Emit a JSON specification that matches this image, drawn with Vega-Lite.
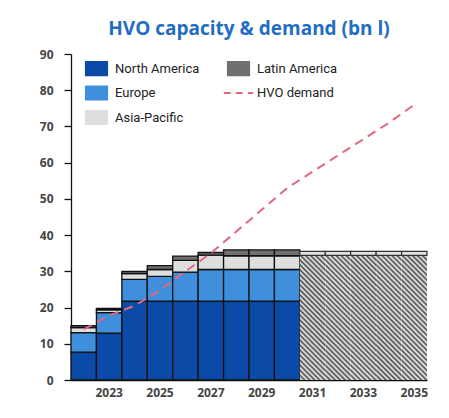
{
  "$schema": "https://vega.github.io/schema/vega-lite/v6.json",
  "width": 356,
  "height": 326,
  "autosize": "none",
  "padding": {"left": 71, "top": 54, "right": 22, "bottom": 38},
  "background": "white",
  "title": {"text": "HVO capacity & demand (bn l)", "color": "#1f6ec3", "fontSize": 19, "font": "Open Sans", "fontWeight": "bold", "anchor": "middle", "frame": "group", "offset": 9},
  "config": {
    "view": {"stroke": null},
    "axisY": {"domainColor": "#111", "domainWidth": 1.3, "tickColor": "#111", "tickWidth": 1.3, "tickSize": 7, "labelFont": "Open Sans", "labelFontSize": 12, "labelFontWeight": "bold", "labelColor": "#444", "labelPadding": 11, "grid": false},
    "axisX": {"domainColor": "#111", "domainWidth": 1.3, "ticks": false, "labelFont": "Open Sans", "labelFontSize": 12, "labelFontWeight": "bold", "labelColor": "#444", "labelPadding": 7, "labelAngle": 0, "grid": false}
  },
  "datasets": {
    "capacity": [
      {"year": 2022, "region": "North America", "order": 1, "value": 7.7},
      {"year": 2022, "region": "Europe", "order": 2, "value": 5.4},
      {"year": 2022, "region": "Asia-Pacific", "order": 3, "value": 1.4},
      {"year": 2022, "region": "Latin America", "order": 4, "value": 0.5},
      {"year": 2023, "region": "North America", "order": 1, "value": 12.9},
      {"year": 2023, "region": "Europe", "order": 2, "value": 5.7},
      {"year": 2023, "region": "Asia-Pacific", "order": 3, "value": 0.8},
      {"year": 2023, "region": "Latin America", "order": 4, "value": 0.4},
      {"year": 2024, "region": "North America", "order": 1, "value": 21.8},
      {"year": 2024, "region": "Europe", "order": 2, "value": 6.0},
      {"year": 2024, "region": "Asia-Pacific", "order": 3, "value": 1.6},
      {"year": 2024, "region": "Latin America", "order": 4, "value": 0.6},
      {"year": 2025, "region": "North America", "order": 1, "value": 21.8},
      {"year": 2025, "region": "Europe", "order": 2, "value": 6.8},
      {"year": 2025, "region": "Asia-Pacific", "order": 3, "value": 1.9},
      {"year": 2025, "region": "Latin America", "order": 4, "value": 1.1},
      {"year": 2026, "region": "North America", "order": 1, "value": 21.8},
      {"year": 2026, "region": "Europe", "order": 2, "value": 8.0},
      {"year": 2026, "region": "Asia-Pacific", "order": 3, "value": 3.2},
      {"year": 2026, "region": "Latin America", "order": 4, "value": 1.2},
      {"year": 2027, "region": "North America", "order": 1, "value": 21.8},
      {"year": 2027, "region": "Europe", "order": 2, "value": 8.7},
      {"year": 2027, "region": "Asia-Pacific", "order": 3, "value": 4.0},
      {"year": 2027, "region": "Latin America", "order": 4, "value": 0.7},
      {"year": 2028, "region": "North America", "order": 1, "value": 21.8},
      {"year": 2028, "region": "Europe", "order": 2, "value": 8.7},
      {"year": 2028, "region": "Asia-Pacific", "order": 3, "value": 3.8},
      {"year": 2028, "region": "Latin America", "order": 4, "value": 1.6},
      {"year": 2029, "region": "North America", "order": 1, "value": 21.8},
      {"year": 2029, "region": "Europe", "order": 2, "value": 8.7},
      {"year": 2029, "region": "Asia-Pacific", "order": 3, "value": 3.8},
      {"year": 2029, "region": "Latin America", "order": 4, "value": 1.6},
      {"year": 2030, "region": "North America", "order": 1, "value": 21.8},
      {"year": 2030, "region": "Europe", "order": 2, "value": 8.7},
      {"year": 2030, "region": "Asia-Pacific", "order": 3, "value": 3.8},
      {"year": 2030, "region": "Latin America", "order": 4, "value": 1.6}
    ],
    "forecast": [
      {"year": 2031, "base": 34.4, "top": 35.5},
      {"year": 2032, "base": 34.4, "top": 35.5},
      {"year": 2033, "base": 34.4, "top": 35.5},
      {"year": 2034, "base": 34.4, "top": 35.5},
      {"year": 2035, "base": 34.4, "top": 35.5}
    ],
    "demand": [
      {"year": 2022, "demand": 14.0},
      {"year": 2023, "demand": 17.8},
      {"year": 2024, "demand": 20.5},
      {"year": 2025, "demand": 24.8},
      {"year": 2026, "demand": 30.0},
      {"year": 2027, "demand": 35.0},
      {"year": 2028, "demand": 41.0},
      {"year": 2029, "demand": 47.0},
      {"year": 2030, "demand": 53.0},
      {"year": 2031, "demand": 57.5},
      {"year": 2032, "demand": 62.0},
      {"year": 2033, "demand": 66.5},
      {"year": 2034, "demand": 71.0},
      {"year": 2035, "demand": 76.0}
    ]
  },
  "layer": [
    {
      "data": {"name": "capacity"},
      "mark": {"type": "bar", "stroke": "#111", "strokeWidth": 1.3},
      "encoding": {
        "x": {"field": "year", "type": "ordinal", "title": null, "axis": {"values": [2023, 2025, 2027, 2029, 2031, 2033, 2035]}, "scale": {"domain": [2022, 2023, 2024, 2025, 2026, 2027, 2028, 2029, 2030, 2031, 2032, 2033, 2034, 2035], "paddingInner": 0, "paddingOuter": 0}},
        "y": {"field": "value", "type": "quantitative", "stack": "zero", "title": null, "axis": {"values": [0, 10, 20, 30, 40, 50, 60, 70, 80, 90], "labelOverlap": false}, "scale": {"domain": [0, 90], "nice": false}},
        "color": {
          "field": "region", "type": "nominal",
          "scale": {"domain": ["North America", "Latin America", "Europe", "HVO demand", "Asia-Pacific"], "range": ["#0b4aa6", "#707070", "#3f8fdc", "#e2687e", "#dedede"]},
          "legend": {
            "orient": "none", "legendX": 19, "legendY": 8, "columns": 2, "direction": "horizontal", "title": null, "padding": 0,
            "symbolSize": 196, "symbolType": "M-1.57,-1H1.57V1H-1.57Z", "symbolStrokeColor": "#111", "symbolStrokeWidth": 1.2, "symbolOpacity": 1,
            "labelFont": "Roboto", "labelFontSize": 13, "labelColor": "#222", "labelOffset": 12, "columnPadding": 19, "rowPadding": 5.5,
            "encode": {
              "symbols": {
                "update": {
                  "shape": {"signal": "datum.value === 'HVO demand' ? 'M-2.1,0H2.1' : 'M-1.57,-1H1.57V1H-1.57Z'"},
                  "stroke": {"signal": "datum.value === 'HVO demand' ? '#e2687e' : '#111'"},
                  "strokeDash": {"signal": "datum.value === 'HVO demand' ? [7, 5] : []"},
                  "strokeWidth": {"signal": "datum.value === 'HVO demand' ? 2 : 1.2"}
                }
              }
            }
          }
        },
        "order": {"field": "order", "type": "quantitative"}
      }
    },
    {
      "data": {"name": "forecast"},
      "mark": {
        "type": "bar",
        "strokeWidth": 0,
        "fill": {
          "gradient": "linear", "x1": 0.3837, "y1": 1.08, "x2": 0.6203, "y2": -0.08,
          "stops": [
            {"offset": 0, "color": "#4a4a4a"}, {"offset": 0.017, "color": "#f2f2f2"}, {"offset": 0.033, "color": "#4a4a4a"}, {"offset": 0.05, "color": "#f2f2f2"},
            {"offset": 0.067, "color": "#4a4a4a"}, {"offset": 0.083, "color": "#f2f2f2"}, {"offset": 0.1, "color": "#4a4a4a"}, {"offset": 0.117, "color": "#f2f2f2"},
            {"offset": 0.133, "color": "#4a4a4a"}, {"offset": 0.15, "color": "#f2f2f2"}, {"offset": 0.167, "color": "#4a4a4a"}, {"offset": 0.183, "color": "#f2f2f2"},
            {"offset": 0.2, "color": "#4a4a4a"}, {"offset": 0.217, "color": "#f2f2f2"}, {"offset": 0.233, "color": "#4a4a4a"}, {"offset": 0.25, "color": "#f2f2f2"},
            {"offset": 0.267, "color": "#4a4a4a"}, {"offset": 0.283, "color": "#f2f2f2"}, {"offset": 0.3, "color": "#4a4a4a"}, {"offset": 0.317, "color": "#f2f2f2"},
            {"offset": 0.333, "color": "#4a4a4a"}, {"offset": 0.35, "color": "#f2f2f2"}, {"offset": 0.367, "color": "#4a4a4a"}, {"offset": 0.383, "color": "#f2f2f2"},
            {"offset": 0.4, "color": "#4a4a4a"}, {"offset": 0.417, "color": "#f2f2f2"}, {"offset": 0.433, "color": "#4a4a4a"}, {"offset": 0.45, "color": "#f2f2f2"},
            {"offset": 0.467, "color": "#4a4a4a"}, {"offset": 0.483, "color": "#f2f2f2"}, {"offset": 0.5, "color": "#4a4a4a"}, {"offset": 0.517, "color": "#f2f2f2"},
            {"offset": 0.533, "color": "#4a4a4a"}, {"offset": 0.55, "color": "#f2f2f2"}, {"offset": 0.567, "color": "#4a4a4a"}, {"offset": 0.583, "color": "#f2f2f2"},
            {"offset": 0.6, "color": "#4a4a4a"}, {"offset": 0.617, "color": "#f2f2f2"}, {"offset": 0.633, "color": "#4a4a4a"}, {"offset": 0.65, "color": "#f2f2f2"},
            {"offset": 0.667, "color": "#4a4a4a"}, {"offset": 0.683, "color": "#f2f2f2"}, {"offset": 0.7, "color": "#4a4a4a"}, {"offset": 0.717, "color": "#f2f2f2"},
            {"offset": 0.733, "color": "#4a4a4a"}, {"offset": 0.75, "color": "#f2f2f2"}, {"offset": 0.767, "color": "#4a4a4a"}, {"offset": 0.783, "color": "#f2f2f2"},
            {"offset": 0.8, "color": "#4a4a4a"}, {"offset": 0.817, "color": "#f2f2f2"}, {"offset": 0.833, "color": "#4a4a4a"}, {"offset": 0.85, "color": "#f2f2f2"},
            {"offset": 0.867, "color": "#4a4a4a"}, {"offset": 0.883, "color": "#f2f2f2"}, {"offset": 0.9, "color": "#4a4a4a"}, {"offset": 0.917, "color": "#f2f2f2"},
            {"offset": 0.933, "color": "#4a4a4a"}, {"offset": 0.95, "color": "#f2f2f2"}, {"offset": 0.967, "color": "#4a4a4a"}, {"offset": 0.983, "color": "#f2f2f2"},
            {"offset": 1, "color": "#4a4a4a"}
          ]
        }
      },
      "encoding": {
        "x": {"field": "year", "type": "ordinal", "title": null, "axis": {"values": [2023, 2025, 2027, 2029, 2031, 2033, 2035]}},
        "y": {"field": "base", "type": "quantitative", "title": null, "axis": {"values": [0, 10, 20, 30, 40, 50, 60, 70, 80, 90], "labelOverlap": false}}
      }
    },
    {
      "data": {"name": "forecast"},
      "mark": {"type": "bar", "fill": "#e2e2e2", "stroke": "#333", "strokeWidth": 1.2},
      "encoding": {
        "x": {"field": "year", "type": "ordinal", "title": null, "axis": {"values": [2023, 2025, 2027, 2029, 2031, 2033, 2035]}},
        "y": {"field": "base", "type": "quantitative", "title": null, "axis": {"values": [0, 10, 20, 30, 40, 50, 60, 70, 80, 90], "labelOverlap": false}},
        "y2": {"field": "top"}
      }
    },
    {
      "data": {"name": "demand"},
      "mark": {"type": "line", "strokeDash": [9, 6], "strokeWidth": 2},
      "encoding": {
        "x": {"field": "year", "type": "ordinal", "title": null, "axis": {"values": [2023, 2025, 2027, 2029, 2031, 2033, 2035]}},
        "y": {"field": "demand", "type": "quantitative", "title": null, "axis": {"values": [0, 10, 20, 30, 40, 50, 60, 70, 80, 90], "labelOverlap": false}},
        "color": {"datum": "HVO demand"}
      }
    }
  ]
}
